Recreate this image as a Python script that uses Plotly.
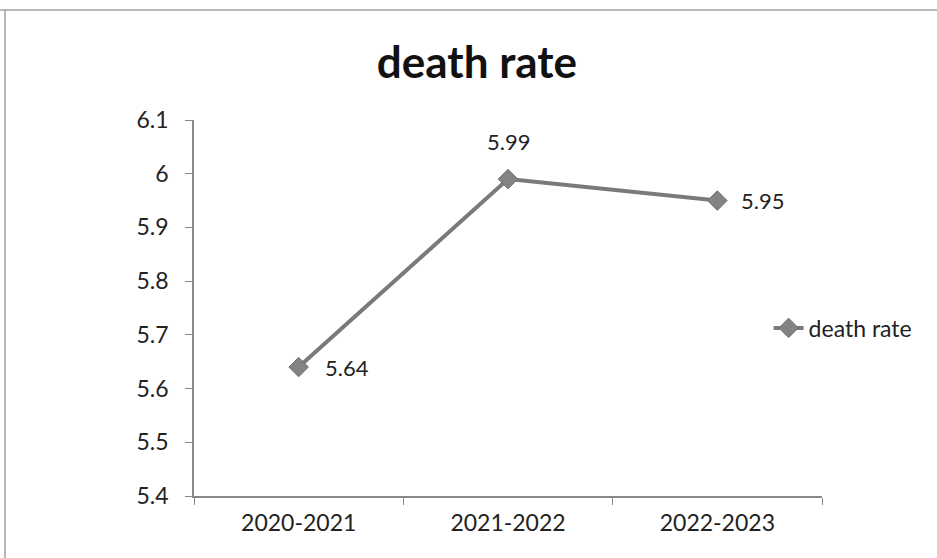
import plotly.graph_objects as go

# Data
periods = ["2020-2021", "2021-2022", "2022-2023"]
death_rate = [5.64, 5.99, 5.95]
y_ticks = [5.4, 5.5, 5.6, 5.7, 5.8, 5.9, 6.0, 6.1]
y_tick_text = ["5.4", "5.5", "5.6", "5.7", "5.8", "5.9", "6", "6.1"]

# Label placement per point: (anchor, x-offset px, y-offset px)
label_offsets = [("left", 24, 0), ("center", 0, 38), ("left", 22, 0)]

FONT = "Lato, 'Open Sans', sans-serif"
LINE_GREY = "#7a7a7a"
TEXT = "#222222"

fig = go.Figure()
fig.add_trace(go.Scatter(
    x=periods,
    y=death_rate,
    name="death rate",
    mode="lines+markers",
    line=dict(color=LINE_GREY, width=4),
    marker=dict(symbol="diamond", size=15, color="#838383",
                line=dict(color="#6f6f6f", width=1)),
    cliponaxis=False,
))

for p, v, (anchor, dx, dy) in zip(periods, death_rate, label_offsets):
    fig.add_annotation(
        x=p, y=v, text=f"{v:.2f}", showarrow=False,
        xanchor=anchor, yanchor="middle", xshift=dx, yshift=dy,
        font=dict(family=FONT, size=22, color=TEXT),
    )

fig.update_layout(
    width=937,
    height=558,
    margin=dict(l=194, r=115, t=120, b=62),
    paper_bgcolor="white",
    plot_bgcolor="white",
    title=dict(
        text="<b>death rate</b>",
        x=0.509, xanchor="center",
        y=0.888, yanchor="middle",
        font=dict(family=FONT, size=44, color="#111111"),
    ),
    showlegend=True,
    legend=dict(
        x=0.915, xanchor="left",
        y=0.447, yanchor="middle",
        font=dict(family=FONT, size=23, color=TEXT),
        itemwidth=30,
        bgcolor="rgba(0,0,0,0)",
    ),
    xaxis=dict(
        type="category",
        range=[-0.5, 2.5],
        showgrid=False,
        showline=True,
        linecolor="#8a8a8a",
        linewidth=1.5,
        ticks="outside",
        tickson="boundaries",
        ticklen=7,
        tickcolor="#8a8a8a",
        tickfont=dict(family=FONT, size=23, color=TEXT),
        ticklabelstandoff=6,
        zeroline=False,
    ),
    yaxis=dict(
        range=[5.4, 6.1],
        tickvals=y_ticks,
        ticktext=y_tick_text,
        showgrid=False,
        showline=True,
        linecolor="#8a8a8a",
        linewidth=1.5,
        ticks="outside",
        ticklen=7,
        tickcolor="#8a8a8a",
        tickfont=dict(family=FONT, size=23, color=TEXT),
        ticklabelstandoff=12,
        zeroline=False,
    ),
)

# Outer chart frame (top and left edges)
fig.add_shape(type="line", xref="paper", yref="paper",
              x0=-194 / 628, x1=(937 - 194) / 628,
              y0=(496 - 10) / 376, y1=(496 - 10) / 376,
              line=dict(color="#a0a0a0", width=1.5))
fig.add_shape(type="line", xref="paper", yref="paper",
              x0=-189 / 628, x1=-189 / 628,
              y0=(496 - 10) / 376, y1=-62 / 376,
              line=dict(color="#a0a0a0", width=1.5))

fig.write_html("out.html")
